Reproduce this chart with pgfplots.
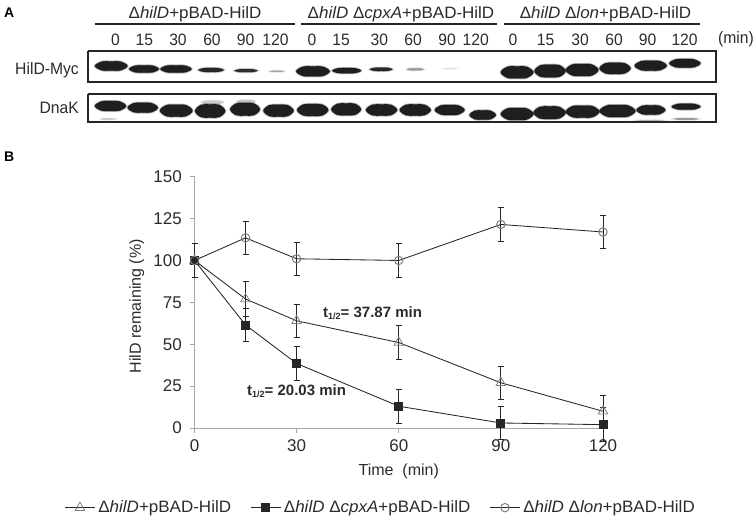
\documentclass[border=0pt]{standalone}
\usepackage{pgfplots}
\pgfplotsset{compat=1.18}
\usepackage{fontspec}
\setmainfont{Liberation Sans}
\usepackage{graphicx}
\definecolor{tx}{gray}{0.17}
\definecolor{ln}{gray}{0.15}
\newcommand{\nar}[1]{\scalebox{1.03}[1]{#1}}
\newcommand{\numt}[1]{\scalebox{0.95}[1]{#1}}
% options, x1 x2 in 1/2.077 px, y in 1/3 px, h in 1/3 px
\newcommand{\bandshape}[5]{\addplot[#1] coordinates {
 (#2/2.077,520-#4/3)
 (#2/2.077+0.2*#3/2.077-0.2*#2/2.077,520-#4/3+0.92*#5/6)
 (#2/2.077+0.5*#3/2.077-0.5*#2/2.077,520-#4/3+#5/6)
 (#2/2.077+0.8*#3/2.077-0.8*#2/2.077,520-#4/3+0.92*#5/6)
 (#3/2.077,520-#4/3)
 (#2/2.077+0.8*#3/2.077-0.8*#2/2.077,520-#4/3-0.92*#5/6)
 (#2/2.077+0.5*#3/2.077-0.5*#2/2.077,520-#4/3-#5/6)
 (#2/2.077+0.2*#3/2.077-0.2*#2/2.077,520-#4/3-0.92*#5/6)};}
\newcommand{\band}[5]{%
 \bandshape{smooth cycle,tension=0.6,draw=black,draw opacity=#5*0.15,line width=2.2pt,fill=none,forget plot}{#1}{#2}{#3}{#4}
 \bandshape{smooth cycle,tension=0.6,draw=black,draw opacity=#5*0.3,line width=1pt,fill=black!88,fill opacity=#5,forget plot}{#1}{#2}{#3}{#4}}
\begin{document}
\begin{tikzpicture}[x=1pt,y=1pt,every node/.style={text=tx,inner sep=0pt}]
\path (0pt,0pt) rectangle (755pt,520pt);
\begin{axis}[at={(0pt,0pt)},anchor=south west,hide axis,scale only axis,width=755pt,height=520pt,xmin=0,xmax=755,ymin=0,ymax=520,clip=false]
% group rules
\addplot[ln,line width=1.4pt,forget plot] coordinates {(95,496)(295,496)};
\addplot[ln,line width=1.4pt,forget plot] coordinates {(301,496)(497,496)};
\addplot[ln,line width=1.4pt,forget plot] coordinates {(504,496)(700,496)};
% HilD-Myc
\band{197}{265}{198}{28}{1}
\band{268}{330}{207}{22}{1}
\band{333}{398}{207}{22}{1}
\band{412}{465}{210}{12}{0.95}
\band{487}{535}{212}{9}{0.9}
\band{560}{590}{214}{4}{0.3}
\band{615}{685}{214}{30}{1}
\band{690}{750}{212}{16}{1}
\band{768}{815}{208}{10}{0.95}
\band{845}{880}{208}{6}{0.4}
\band{920}{950}{206}{3}{0.1}
\band{1040}{1108}{217}{36}{1}
\band{1110}{1175}{213}{38}{1}
\band{1175}{1243}{210}{36}{1}
\band{1245}{1310}{205}{34}{1}
\band{1318}{1385}{197}{30}{1}
\band{1390}{1455}{190}{26}{1}
% DnaK faint smears
\band{418}{465}{307}{10}{0.2}
\band{492}{530}{305}{10}{0.22}
\band{1400}{1450}{357}{4}{0.45}
\band{1320}{1380}{362}{3}{0.25}
\band{210}{240}{357}{3}{0.25}
% DnaK
\band{197}{262}{318}{30}{1}
\band{265}{328}{323}{30}{1}
\band{332}{400}{332}{36}{1}
\band{405}{468}{333}{40}{1}
\band{478}{540}{328}{38}{1}
\band{547}{610}{332}{36}{1}
\band{617}{682}{330}{36}{1}
\band{688}{750}{328}{36}{1}
\band{760}{825}{330}{34}{1}
\band{830}{895}{330}{34}{1}
\band{903}{965}{330}{30}{1}
\band{975}{1030}{345}{28}{1}
\band{1040}{1108}{342}{36}{1}
\band{1108}{1175}{338}{38}{1}
\band{1175}{1245}{335}{36}{1}
\band{1245}{1320}{333}{36}{1}
\band{1322}{1382}{330}{28}{1}
\band{1395}{1455}{320}{18}{1}
% boxes
\addplot[ln,line width=2pt,forget plot] coordinates {(88,469)(716,469)(716,438)(88,438)(88,469)};
\addplot[ln,line width=2pt,forget plot] coordinates {(88,426)(716,426)(716,398)(88,398)(88,426)};
\end{axis}
% main plot
\begin{axis}[at={(194.5pt,92pt)},anchor=south west,scale only axis,width=408.5pt,height=251.3pt,
 xmin=0,xmax=120,ymin=0,ymax=150,xtick={0,30,60,90,120},ytick={0,25,50,75,100,125,150},
 axis lines=left,axis line style={-,gray!70,line width=0.8pt},
 tick style={gray!70,line width=0.8pt},tick align=outside,major tick length=4.5pt,
 tick label style={font=\fontsize{17}{18}\selectfont,text=tx},
 xticklabel style={yshift=-7pt},yticklabel style={xshift=-8pt},
 /pgf/number format/assume math mode=true,
 xlabel={Time\ \ (min)},ylabel={HilD remaining (\%)},
 xlabel style={font=\fontsize{16}{18}\selectfont,text=tx,yshift=-12pt},
 ylabel style={font=\fontsize{16}{18}\selectfont,text=tx,yshift=9pt,xshift=-4pt},
 legend columns=3,
 legend style={at={(-0.326,-0.317)},anchor=west,draw=none,fill=none,font=\fontsize{16.5}{18}\selectfont,/tikz/every even column/.append style={column sep=19pt},nodes={inner sep=0pt,anchor=west}},
 legend image code/.code={\draw[#1,mark repeat=2,mark phase=2] plot coordinates {(0pt,0pt)(15pt,0pt)(30pt,0pt)};},
 clip=false]
\pgfplotsset{err/.style={ln,line width=0.85pt,error bars/.cd,y dir=both,y explicit,error bar style={ln,line width=0.8pt},error mark options={rotate=90,mark size=3pt,ln,line width=0.8pt},/pgfplots/.cd}}
\addplot[err,mark=triangle,mark size=5.5pt,mark options={solid,gray,line width=0.8pt}] table[x=x,y=y,y error=e] {
x y e
0 100 10
15 77 10.5
30 64 10
60 51 10.3
90 27 10
120 10 9.5
};
\addlegendentry{\hspace{3pt}\nar{Δ\textit{hilD}+pBAD-HilD}}
\addplot[err,mark=square*,mark size=4pt,mark options={solid,fill=ln,draw=ln}] table[x=x,y=y,y error=e] {
x y e
0 100 10
15 61.5 10
30 38.5 10
60 13 10
90 3 10
120 2 10
};
\addlegendentry{\hspace{3pt}\nar{Δ\textit{hilD} Δ\textit{cpxA}+pBAD-HilD}}
\addplot[err,mark=o,mark size=4.2pt,mark options={solid,gray,line width=1pt}] table[x=x,y=y,y error=e] {
x y e
0 100 10
15 113.5 10
30 101 10
60 100 10
90 121.5 10
120 117 10
};
\addlegendentry{\hspace{3pt}\nar{Δ\textit{hilD} Δ\textit{lon}+pBAD-HilD}}
\end{axis}
% texts panel A
\node[anchor=west,font=\bfseries\fontsize{14}{15}\selectfont,text=black] at (4pt,507pt) {A};
\node[anchor=west,font=\bfseries\fontsize{14}{15}\selectfont,text=black] at (4pt,363pt) {B};
\node[anchor=center,font=\fontsize{16.5}{18}\selectfont] at (195pt,506pt) {\nar{Δ\textit{hilD}+pBAD-HilD}};
\node[anchor=center,font=\fontsize{16.5}{18}\selectfont] at (401pt,506pt) {\nar{Δ\textit{hilD} Δ\textit{cpxA}+pBAD-HilD}};
\node[anchor=center,font=\fontsize{16.5}{18}\selectfont] at (605.5pt,506pt) {\nar{Δ\textit{hilD} Δ\textit{lon}+pBAD-HilD}};
\foreach \x/\t in {115.5/0,144.4/15,178/30,212/60,245.5/90,275.4/120,312/0,341/15,379.4/30,413/60,447/90,475.7/120,513/0,545.5/15,580/30,614/60,647.6/90,684.6/120}
 \node[font=\fontsize{16.5}{18}\selectfont] at (\x pt,480.5pt) {\numt{\t}};
\node[anchor=east,font=\fontsize{16.5}{18}\selectfont] at (754pt,480.5pt) {\numt{(min)}};
\node[anchor=east,font=\fontsize{16.5}{18}\selectfont] at (79pt,450pt) {\numt{HilD-Myc}};
\node[anchor=east,font=\fontsize{16.5}{18}\selectfont] at (79pt,412pt) {\numt{DnaK}};
% annotations
\node[anchor=west,font=\bfseries\fontsize{15}{16}\selectfont] at (323pt,207pt) {t\raisebox{-2pt}{\fontsize{9}{10}\selectfont 1/2}= 37.87 min};
\node[anchor=west,font=\bfseries\fontsize{15}{16}\selectfont] at (247pt,129pt) {t\raisebox{-2pt}{\fontsize{9}{10}\selectfont 1/2}= 20.03 min};
\end{tikzpicture}
\end{document}
